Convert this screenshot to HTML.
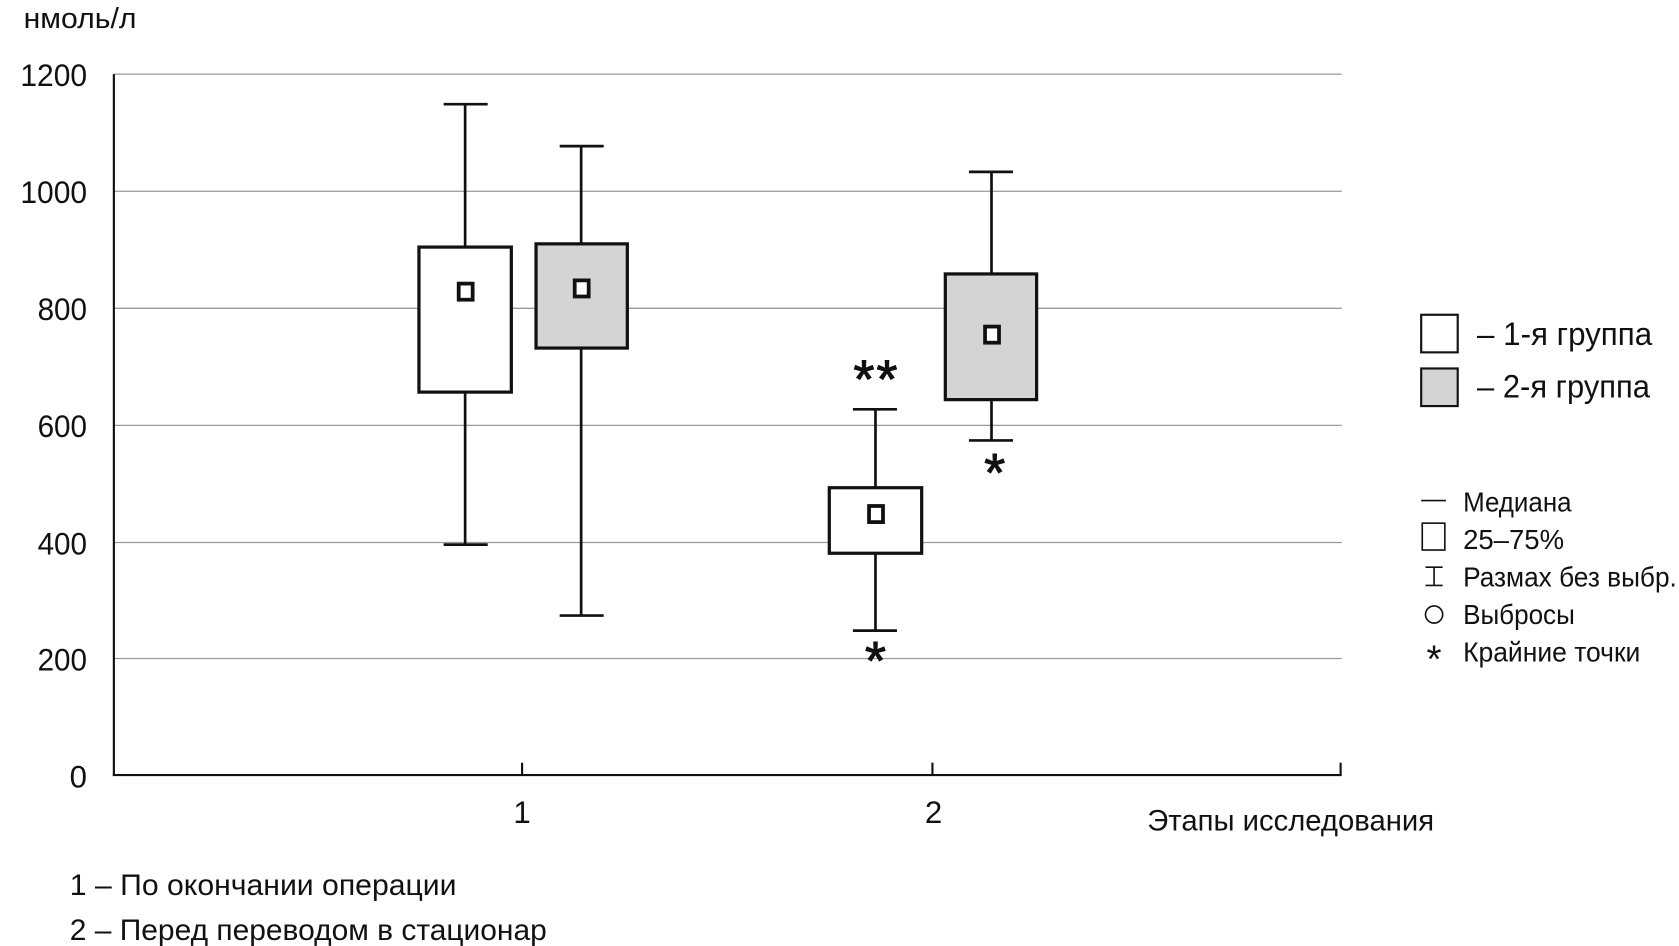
<!DOCTYPE html>
<html><head><meta charset="utf-8"><style>
html,body{margin:0;padding:0;background:#fff}
svg{display:block}
text{font-family:"Liberation Sans","DejaVu Sans",sans-serif;fill:#111}
</style></head><body>
<svg width="1679" height="946" viewBox="0 0 1563 880.6" preserveAspectRatio="none" xmlns="http://www.w3.org/2000/svg">
<g stroke="#9a9a9a" stroke-width="1.2">
<line x1="106" y1="69" x2="1249" y2="69"/>
<line x1="106" y1="178" x2="1249" y2="178"/>
<line x1="106" y1="287" x2="1249" y2="287"/>
<line x1="106" y1="396" x2="1249" y2="396"/>
<line x1="106" y1="505" x2="1249" y2="505"/>
<line x1="106" y1="613" x2="1249" y2="613"/>
</g>
<g stroke="#111" stroke-width="2">
<line x1="106" y1="69" x2="106" y2="722"/>
<line x1="105" y1="721.5" x2="1249" y2="721.5"/>
<line x1="486" y1="710" x2="486" y2="721"/>
<line x1="868" y1="710" x2="868" y2="721"/>
<line x1="1248" y1="710" x2="1248" y2="721"/>
</g>
<g font-size="29" text-anchor="end">
<text x="81" y="80" textLength="62" lengthAdjust="spacingAndGlyphs">1200</text>
<text x="81" y="189" textLength="62" lengthAdjust="spacingAndGlyphs">1000</text>
<text x="81" y="298" textLength="46" lengthAdjust="spacingAndGlyphs">800</text>
<text x="81" y="407" textLength="46" lengthAdjust="spacingAndGlyphs">600</text>
<text x="81" y="516" textLength="46" lengthAdjust="spacingAndGlyphs">400</text>
<text x="81" y="624" textLength="46" lengthAdjust="spacingAndGlyphs">200</text>
<text x="81" y="733">0</text>
</g>
<text x="22" y="26" font-size="27" textLength="105" lengthAdjust="spacingAndGlyphs">нмоль/л</text>
<text x="486" y="766" font-size="29" text-anchor="middle">1</text>
<text x="869" y="766" font-size="29" text-anchor="middle">2</text>
<text x="1068" y="773" font-size="28" textLength="267" lengthAdjust="spacingAndGlyphs">Этапы исследования</text>
<text x="65" y="833" font-size="28" textLength="360" lengthAdjust="spacingAndGlyphs">1 – По окончании операции</text>
<text x="65" y="875" font-size="28" textLength="444" lengthAdjust="spacingAndGlyphs">2 – Перед переводом в стационар</text>
<g stroke="#111" stroke-width="2.5">
<line x1="433" y1="97" x2="433" y2="230"/><line x1="433" y1="365" x2="433" y2="507"/>
<line x1="413" y1="97" x2="454" y2="97"/><line x1="413" y1="507" x2="454" y2="507"/>
<rect x="390" y="230" width="86" height="135" fill="#fff" stroke-width="3"/>
<rect x="427" y="264" width="13" height="15" fill="#fff" stroke-width="3.5"/>
<line x1="541" y1="136" x2="541" y2="227"/><line x1="541" y1="324" x2="541" y2="573"/>
<line x1="521" y1="136" x2="562" y2="136"/><line x1="521" y1="573" x2="562" y2="573"/>
<rect x="499" y="227" width="85" height="97" fill="#d4d4d4" stroke-width="3"/>
<rect x="535" y="261" width="13" height="15" fill="#fff" stroke-width="3.5"/>
<line x1="815" y1="381" x2="815" y2="454"/><line x1="815" y1="515" x2="815" y2="587"/>
<line x1="794" y1="381" x2="835" y2="381"/><line x1="794" y1="587" x2="835" y2="587"/>
<rect x="772" y="454" width="86" height="61" fill="#fff" stroke-width="3"/>
<rect x="809" y="471" width="13" height="15" fill="#fff" stroke-width="3.5"/>
<line x1="923" y1="160" x2="923" y2="255"/><line x1="923" y1="372" x2="923" y2="410"/>
<line x1="902" y1="160" x2="943" y2="160"/><line x1="902" y1="410" x2="943" y2="410"/>
<rect x="880" y="255" width="85" height="117" fill="#d4d4d4" stroke-width="3"/>
<rect x="917" y="304" width="13" height="15" fill="#fff" stroke-width="3.5"/>
</g>
<g font-size="50" text-anchor="middle" stroke="#111" stroke-width="1">
<text x="816" y="370" letter-spacing="2">**</text>
<text x="815" y="632">*</text>
<text x="926" y="457">*</text>
</g>
<rect x="1323" y="293" width="34" height="35" fill="#fff" stroke="#111" stroke-width="2"/>
<rect x="1323" y="343" width="34" height="35" fill="#d4d4d4" stroke="#111" stroke-width="2"/>
<text x="1375" y="321" font-size="30" textLength="163" lengthAdjust="spacingAndGlyphs">– 1-я группа</text>
<text x="1375" y="370" font-size="30" textLength="161" lengthAdjust="spacingAndGlyphs">– 2-я группа</text>
<g font-size="26">
<line x1="1323" y1="466" x2="1346" y2="466" stroke="#111" stroke-width="1.5"/>
<text x="1362" y="476" textLength="101" lengthAdjust="spacingAndGlyphs">Медиана</text>
<rect x="1324" y="487" width="21" height="25" fill="none" stroke="#111" stroke-width="1.5"/>
<text x="1362" y="511" textLength="94" lengthAdjust="spacingAndGlyphs">25–75%</text>
<path d="M1327 528H1343M1335 528V545M1327 545H1343" stroke="#111" stroke-width="1.5" fill="none"/>
<text x="1362" y="546" textLength="199" lengthAdjust="spacingAndGlyphs">Размах без выбр.</text>
<circle cx="1335" cy="572" r="8" fill="none" stroke="#111" stroke-width="1.5"/>
<text x="1362" y="581" textLength="104" lengthAdjust="spacingAndGlyphs">Выбросы</text>
<text x="1335" y="626" text-anchor="middle" font-size="36">*</text>
<text x="1362" y="616" textLength="165" lengthAdjust="spacingAndGlyphs">Крайние точки</text>
</g>
</svg>
</body></html>
